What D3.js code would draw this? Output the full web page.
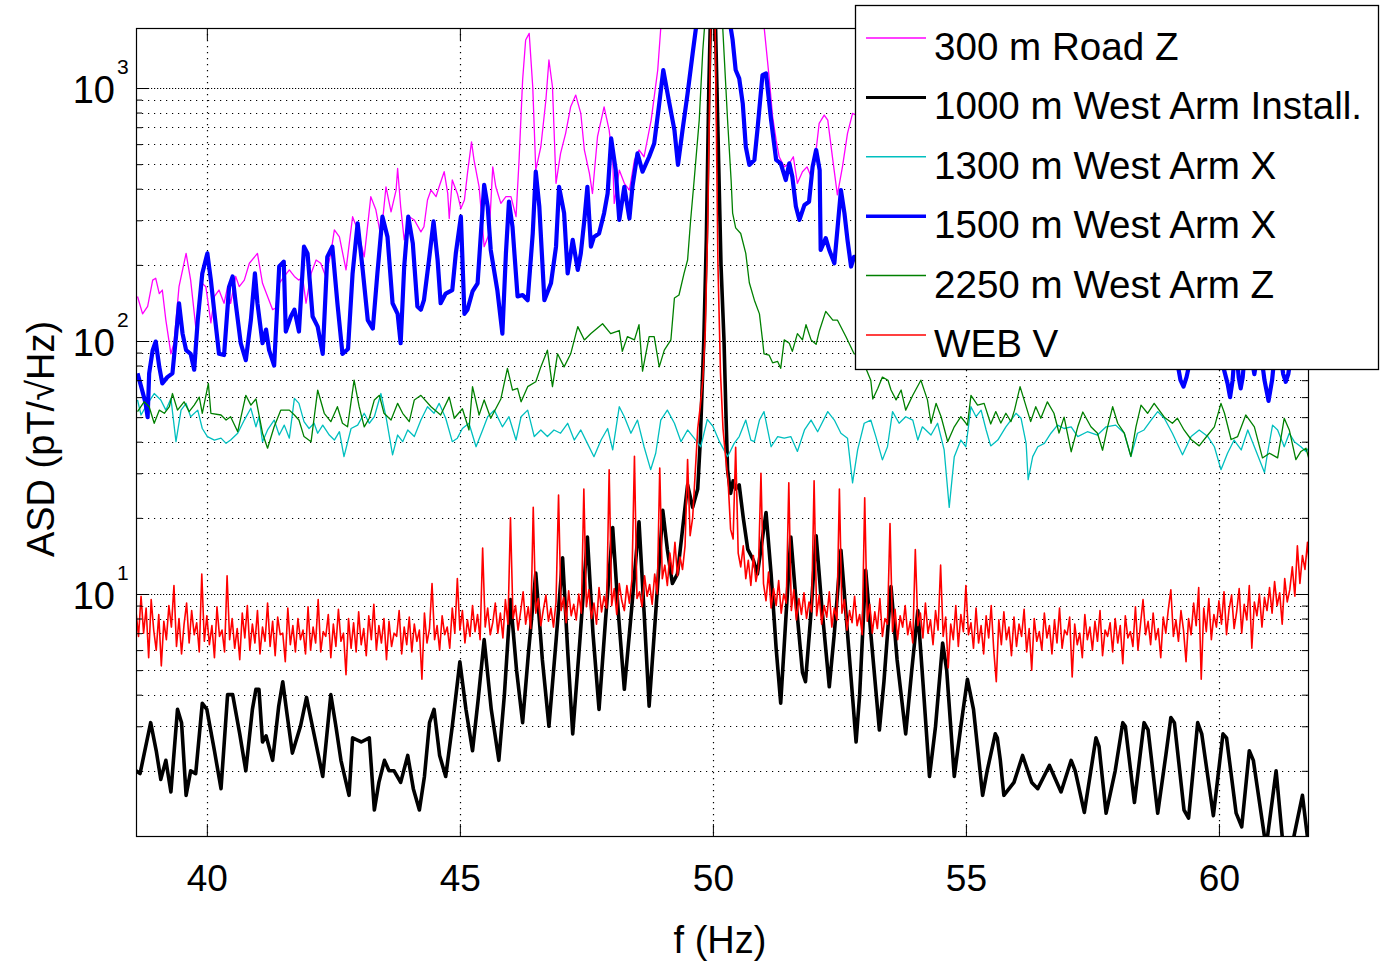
<!DOCTYPE html>
<html><head><meta charset="utf-8">
<script src="https://cdn.jsdelivr.net/npm/d3@7"></script>
<style>
body{margin:0;background:#fff}
svg{display:block}
text{font-family:"Liberation Sans",Arial,Helvetica,sans-serif;fill:#000}
</style>
</head><body>
<svg id="chart" width="1380" height="963"></svg>
<script>
// ---------------- DATA ----------------
const xTicks = [40, 45, 50, 55, 60];
const yMajorTicks = [10, 100, 1000];
const yMinorMultipliers = [2, 3, 4, 5, 6, 7, 8, 9];
const xDomain = [38.6, 61.76];
const yDomain = [1.105, 1727];
const xLabel = "f (Hz)";
const yLabel = "ASD (pT/\u221AHz)";
const legendLabels = ["300 m Road Z", "1000 m West Arm Install.", "1300 m West Arm X",
  "1500 m West Arm X", "2250 m West Arm Z", "WEB V"];

// [frequency Hz, ASD pT/sqrt(Hz)]
const road300Z = [[38.63,150],[38.73,128],[38.83,137],[38.93,174],[38.99,177],[39.06,154],[39.12,159],[39.19,121],[39.29,89],[39.35,98],[39.45,164],[39.59,222],[39.68,174],[39.78,114],[39.85,137],[39.91,169],[39.98,164],[40.08,118],[40.15,150],[40.24,159],[40.34,141],[40.41,164],[40.47,141],[40.57,180],[40.64,164],[40.74,174],[40.84,203],[41.00,222],[41.10,169],[41.20,150],[41.30,133],[41.36,135],[41.43,169],[41.53,180],[41.63,191],[41.73,180],[41.82,174],[41.89,180],[41.96,141],[42.06,185],[42.16,209],[42.25,203],[42.35,180],[42.45,222],[42.52,275],[42.62,258],[42.75,191],[42.88,310],[42.98,275],[43.11,215],[43.24,372],[43.34,330],[43.44,258],[43.54,407],[43.64,324],[43.74,395],[43.77,481],[43.83,340],[43.90,251],[44.00,310],[44.10,301],[44.23,270],[44.29,283],[44.36,361],[44.43,395],[44.53,372],[44.59,407],[44.69,467],[44.76,383],[44.79,305],[44.85,433],[44.95,383],[45.02,334],[45.09,361],[45.15,460],[45.23,613],[45.28,519],[45.38,407],[45.48,236],[45.58,266],[45.65,488],[45.71,407],[45.81,350],[45.91,372],[46.01,372],[46.11,310],[46.17,519],[46.24,1076],[46.30,1549],[46.37,1644],[46.44,1012],[46.50,474],[46.60,586],[46.70,897],[46.76,1291],[46.83,1012],[46.90,420],[46.99,552],[47.09,662],[47.19,844],[47.29,938],[47.39,794],[47.46,569],[47.56,460],[47.62,383],[47.72,642],[47.85,843],[47.95,682],[48.02,519],[48.05,350],[48.15,474],[48.25,420],[48.35,395],[48.45,519],[48.54,569],[48.64,535],[48.78,747],[48.91,1178],[48.97,1726],[49.20,2400],[49.60,3500],[50.00,6000],[50.50,3500],[50.90,2200],[51.01,1760],[51.11,1109],[51.18,771],[51.25,622],[51.31,535],[51.41,488],[51.51,504],[51.59,535],[51.67,420],[51.77,467],[51.86,488],[51.94,446],[52.04,569],[52.10,725],[52.20,782],[52.27,747],[52.37,519],[52.46,378],[52.56,488],[52.66,662],[52.76,794],[52.83,782],[53.10,400],[53.30,700],[53.60,350],[53.80,600],[54.10,300],[54.30,500],[54.60,280],[54.80,450],[55.10,250],[55.30,400],[55.60,230],[55.80,350],[56.10,220],[56.30,320],[56.60,200],[56.80,300],[57.10,190],[57.30,280],[57.60,180],[57.80,260],[58.10,170],[58.30,250],[58.60,165],[58.80,240],[59.10,160],[59.30,230],[59.60,155],[59.80,220],[60.10,150],[60.30,210],[60.60,145],[60.80,200],[61.10,140],[61.30,200],[61.60,135],[61.76,190]];

const install1000 = [[38.60,2.0],[38.68,1.95],[38.89,3.1],[39.00,2.4],[39.09,1.85],[39.19,2.2],[39.29,1.65],[39.42,3.5],[39.50,3.1],[39.59,1.6],[39.68,2.0],[39.78,1.95],[39.91,3.7],[40.00,3.5],[40.15,2.4],[40.28,1.7],[40.41,4.0],[40.51,4.0],[40.65,2.8],[40.77,2.0],[40.90,3.5],[40.97,4.2],[41.03,4.2],[41.10,2.6],[41.17,2.75],[41.30,2.2],[41.42,3.6],[41.50,4.5],[41.58,3.4],[41.69,2.35],[41.85,3.0],[41.97,3.9],[42.03,3.4],[42.15,2.6],[42.29,1.9],[42.45,4.0],[42.55,3.0],[42.65,2.2],[42.81,1.6],[42.88,2.7],[43.05,2.6],[43.21,2.7],[43.31,1.4],[43.40,1.8],[43.51,2.2],[43.60,2.0],[43.70,2.0],[43.83,1.8],[43.97,2.3],[44.08,1.7],[44.20,1.4],[44.30,1.9],[44.40,3.1],[44.49,3.5],[44.60,2.3],[44.72,1.9],[44.85,3.0],[45.00,5.4],[45.12,3.5],[45.25,2.4],[45.36,3.8],[45.48,6.6],[45.62,3.5],[45.77,2.2],[45.88,4.0],[46.00,9.5],[46.12,5.0],[46.24,3.1],[46.36,6.0],[46.50,12.1],[46.63,5.5],[46.76,3.0],[46.90,6.5],[47.03,13.9],[47.13,6.0],[47.23,2.8],[47.37,6.5],[47.52,16.8],[47.63,7.0],[47.75,3.5],[47.88,8.0],[48.02,18.3],[48.13,8.5],[48.25,4.2],[48.40,9.0],[48.54,19.3],[48.64,8.5],[48.74,3.6],[48.88,9.0],[49.01,21.4],[49.10,15],[49.20,11],[49.30,12],[49.40,18],[49.50,27],[49.60,22],[49.70,26],[49.75,40],[49.82,100],[49.87,250],[49.92,1000],[50.00,5000],[50.08,1000],[50.16,200],[50.22,100],[50.26,50],[50.29,31],[50.35,25],[50.40,28],[50.45,26],[50.52,27],[50.60,20],[50.69,15],[50.80,13.6],[50.88,12],[51.05,21],[51.15,12],[51.25,6.1],[51.34,3.7],[51.44,7.9],[51.54,16.8],[51.65,9],[51.77,4.9],[51.83,4.5],[51.93,8],[52.04,17],[52.15,9],[52.30,4.3],[52.40,7],[52.53,14.9],[52.66,7],[52.83,2.6],[52.90,4],[53.02,12.4],[53.12,7],[53.29,2.9],[53.38,4.5],[53.52,10.7],[53.64,5.5],[53.81,2.8],[53.93,5],[54.05,8.6],[54.15,4.5],[54.28,1.9],[54.40,3],[54.54,6.4],[54.62,5],[54.77,1.9],[54.90,3],[55.03,4.6],[55.15,3.5],[55.33,1.6],[55.42,2.0],[55.58,2.8],[55.62,2.7],[55.68,2.2],[55.75,1.6],[55.95,1.8],[56.12,2.3],[56.30,1.8],[56.42,1.7],[56.65,2.1],[56.88,1.65],[57.08,2.2],[57.16,2.0],[57.34,1.37],[57.57,2.7],[57.63,2.5],[57.77,1.36],[57.95,2.0],[58.10,3.1],[58.15,3.0],[58.33,1.5],[58.52,3.1],[58.60,2.9],[58.79,1.36],[58.95,2.3],[59.05,3.25],[59.12,3.1],[59.31,1.4],[59.40,1.3],[59.58,3.1],[59.66,2.8],[59.89,1.33],[60.08,2.8],[60.15,2.7],[60.34,1.36],[60.45,1.2],[60.60,2.4],[60.68,2.2],[60.90,1.1],[60.96,1.1],[61.13,2.0],[61.26,1.05],[61.46,1.05],[61.65,1.6],[61.76,1.05]];

const arm1300X = [[38.63,58.5],[38.70,51],[38.79,55],[38.96,62],[39.09,58.5],[39.19,53.3],[39.29,59.3],[39.39,40],[39.49,53.3],[39.59,56.7],[39.68,50.2],[39.82,53.3],[39.91,45.1],[40.01,41.9],[40.15,40.6],[40.28,41.3],[40.38,39.4],[40.47,40.6],[40.61,43.2],[40.74,48.7],[40.87,54.2],[40.97,45.8],[41.03,50.2],[41.10,40],[41.20,44.5],[41.33,48.7],[41.43,42.5],[41.53,46.5],[41.63,41.3],[41.73,59.3],[41.82,56.7],[41.92,48],[42.02,45.1],[42.12,47.3],[42.19,43.2],[42.29,46.5],[42.42,42.5],[42.52,40.6],[42.62,43.8],[42.71,34.9],[42.85,45.1],[42.98,46.5],[43.11,51.8],[43.21,47.3],[43.31,50.2],[43.44,62],[43.54,50.2],[43.67,35.5],[43.77,42.5],[43.87,40],[43.97,44.5],[44.10,41.9],[44.23,48.7],[44.36,55],[44.49,51.8],[44.59,56.7],[44.72,49.5],[44.85,40],[44.95,41.3],[45.05,45.1],[45.18,47.3],[45.32,38.2],[45.45,44.5],[45.55,50.2],[45.68,53.3],[45.84,45.8],[45.97,50.2],[46.11,40.6],[46.21,50.2],[46.34,53.3],[46.47,41.9],[46.60,44.5],[46.73,41.9],[46.86,44.5],[46.99,43.2],[47.13,47.3],[47.26,40.6],[47.39,44.5],[47.52,39.4],[47.65,34.9],[47.79,40.6],[47.92,45.1],[48.02,37.1],[48.15,55],[48.25,50.2],[48.38,43.2],[48.51,48.7],[48.64,38.2],[48.77,31],[48.87,36],[48.97,48.7],[49.10,53.3],[49.24,47.3],[49.37,40],[49.50,44.5],[49.63,41.3],[49.76,38.2],[49.89,49],[50.00,46],[50.13,40],[50.29,34.9],[50.42,39.4],[50.52,41.9],[50.65,48.7],[50.75,40.6],[50.82,40],[50.92,48.7],[51.01,52.6],[51.15,38.2],[51.28,41.9],[51.41,41.3],[51.54,41.9],[51.67,36.6],[51.81,44.5],[51.94,48.7],[52.07,43.8],[52.27,52.6],[52.40,48.7],[52.53,43.2],[52.66,41.3],[52.76,27.5],[52.86,37.1],[52.99,47.3],[53.12,48.7],[53.22,41.9],[53.35,33.9],[53.45,38.2],[53.55,52.6],[53.68,47.3],[53.81,50.2],[53.95,48.7],[54.05,40.6],[54.14,45.8],[54.31,42.5],[54.44,47.3],[54.57,37.1],[54.67,22],[54.77,34.9],[54.90,40.6],[55.00,38.2],[55.10,55],[55.20,50.2],[55.30,53.3],[55.40,44.5],[55.49,38.5],[55.63,40.6],[55.79,45.8],[55.89,48.7],[55.99,51.8],[56.09,49.5],[56.19,39.4],[56.23,28.3],[56.32,34.9],[56.42,38.2],[56.55,39.4],[56.68,43.2],[56.81,46.5],[56.94,45.1],[57.08,45.8],[57.21,41.9],[57.40,43.8],[57.60,42.5],[57.77,45.8],[57.96,46.5],[58.13,43.2],[58.26,34.9],[58.39,43.2],[58.52,44.5],[58.66,48.7],[58.79,52.6],[58.92,49.5],[59.08,43.2],[59.28,35.5],[59.45,41.9],[59.61,44.5],[59.78,41.9],[59.91,38.2],[60.04,31],[60.17,36],[60.30,40.6],[60.44,37.1],[60.57,44.5],[60.70,38.2],[60.90,30.2],[60.96,36],[61.06,46.5],[61.16,44.5],[61.29,38.2],[61.39,43.2],[61.49,40],[61.62,38.2],[61.72,36.6],[61.80,38.2]];

const arm1500X = [[38.63,74.5],[38.72,64],[38.79,56.7],[38.83,50],[38.86,74.5],[38.93,92],[38.99,99.5],[39.06,79],[39.12,68],[39.22,72],[39.32,74.5],[39.39,104],[39.45,141],[39.52,107],[39.59,92],[39.68,89],[39.75,77],[39.82,121],[39.91,185],[40.01,222],[40.08,174],[40.15,129],[40.24,89],[40.34,88],[40.44,164],[40.51,180],[40.57,141],[40.67,98],[40.77,84],[40.87,121],[40.95,185],[41.00,141],[41.10,98],[41.17,111],[41.23,92],[41.33,80],[41.43,197],[41.52,206],[41.56,109],[41.66,125],[41.73,133],[41.82,109],[41.92,236],[41.99,222],[42.09,125],[42.19,114],[42.29,89],[42.38,215],[42.48,236],[42.58,141],[42.68,89],[42.79,93],[42.88,185],[42.98,292],[43.08,191],[43.18,121],[43.28,112],[43.37,185],[43.47,310],[43.57,258],[43.67,141],[43.77,128],[43.83,98],[43.90,197],[43.98,310],[44.07,243],[44.16,137],[44.23,133],[44.29,145],[44.39,209],[44.48,297],[44.56,209],[44.62,141],[44.72,154],[44.85,159],[44.92,222],[45.02,310],[45.09,128],[45.15,133],[45.25,157],[45.35,169],[45.48,414],[45.55,340],[45.61,229],[45.74,159],[45.84,107],[45.91,222],[45.97,356],[46.04,283],[46.14,150],[46.24,152],[46.34,145],[46.44,266],[46.50,467],[46.57,340],[46.67,145],[46.80,169],[46.90,236],[46.96,407],[47.06,320],[47.13,185],[47.23,251],[47.33,191],[47.39,222],[47.46,301],[47.52,407],[47.59,236],[47.65,258],[47.75,266],[47.85,320],[47.92,383],[47.99,632],[48.08,474],[48.15,301],[48.25,407],[48.35,305],[48.41,407],[48.51,552],[48.61,467],[48.74,535],[48.84,604],[48.94,869],[49.02,1178],[49.14,869],[49.24,682],[49.31,497],[49.40,682],[49.50,952],[49.60,1371],[49.66,1694],[49.70,1900],[50.00,5000],[50.32,1900],[50.39,1549],[50.45,1178],[50.52,1092],[50.59,869],[50.65,586],[50.72,497],[50.82,519],[50.88,682],[50.98,1125],[51.05,1143],[51.15,748],[51.25,520],[51.34,504],[51.44,433],[51.51,504],[51.57,446],[51.64,340],[51.71,301],[51.81,345],[51.90,355],[51.97,488],[52.04,569],[52.11,474],[52.13,229],[52.23,255],[52.30,229],[52.40,203],[52.46,275],[52.53,395],[52.60,320],[52.66,251],[52.73,197],[52.79,215],[52.86,215],[53.00,350],[53.25,160],[53.50,300],[53.75,140],[54.00,260],[54.25,120],[54.50,230],[54.75,110],[55.00,200],[55.25,100],[55.50,180],[55.75,95],[56.00,170],[56.25,92],[56.50,160],[56.75,90],[57.00,150],[57.25,85],[57.50,150],[57.75,85],[58.00,140],[58.25,82],[58.50,140],[58.75,80],[59.00,130],[59.24,70],[59.30,66],[59.36,72],[59.60,120],[59.90,110],[60.17,68],[60.22,60],[60.27,70],[60.33,100],[60.39,72],[60.43,65],[60.47,72],[60.55,110],[60.70,74],[60.80,100],[60.90,70],[60.98,58],[61.05,70],[61.15,110],[61.27,74],[61.32,69],[61.37,74],[61.50,110],[61.76,100]];

const arm2250Z = [[38.63,52.6],[38.76,57.5],[38.86,55],[38.96,47.3],[39.06,53.3],[39.16,51.8],[39.26,55],[39.32,62],[39.42,53.3],[39.55,57.5],[39.65,52.6],[39.75,55.8],[39.85,60],[39.91,51.8],[40.03,68],[40.08,51.8],[40.28,51],[40.38,48.7],[40.47,50.2],[40.61,43.8],[40.77,61],[40.87,55.8],[40.97,59],[41.10,43.2],[41.20,37.7],[41.33,45.8],[41.46,53.3],[41.63,53.3],[41.73,51],[41.82,48.7],[41.92,41.9],[42.06,40],[42.19,64],[42.32,51.8],[42.45,48],[42.58,55],[42.68,47.3],[42.78,45.8],[42.91,70],[43.01,55],[43.11,45.8],[43.21,49.5],[43.31,58.5],[43.41,61],[43.50,51.8],[43.64,48.7],[43.77,56.7],[43.87,51.8],[44.00,48],[44.10,58.5],[44.23,61],[44.43,55],[44.62,51],[44.79,60],[44.89,49.5],[45.05,54],[45.18,44.5],[45.25,66],[45.38,51],[45.48,58.5],[45.61,49.5],[45.81,59],[45.94,78],[46.04,64],[46.14,65],[46.21,57.5],[46.34,66],[46.50,69],[46.60,79],[46.73,92],[46.83,66],[46.93,89],[47.06,79],[47.19,89],[47.33,114],[47.46,101],[47.59,107],[47.82,117],[47.98,107],[48.15,110],[48.21,91],[48.31,104],[48.45,101],[48.54,116],[48.61,76],[48.74,104],[48.84,104],[48.94,79],[49.04,92],[49.17,101],[49.24,148],[49.33,152],[49.43,185],[49.50,209],[49.56,300],[49.63,433],[49.73,747],[49.80,1400],[49.84,1800],[50.00,4000],[50.19,1800],[50.29,747],[50.36,433],[50.39,320],[50.45,280],[50.55,266],[50.65,222],[50.72,170],[50.82,145],[50.92,128],[50.98,101],[51.01,89],[51.11,88],[51.18,82],[51.28,83],[51.34,78],[51.41,101],[51.51,98],[51.57,91],[51.67,107],[51.77,101],[51.84,116],[51.94,101],[52.04,97],[52.10,109],[52.23,131],[52.37,121],[52.46,121],[52.63,104],[52.79,89],[52.86,89],[53.00,80],[53.12,70],[53.16,59],[53.26,65],[53.35,72],[53.46,70],[53.52,64],[53.62,58.5],[53.72,64],[53.81,53.3],[53.95,61],[54.11,70],[54.24,58.5],[54.31,47.3],[54.41,56.7],[54.51,50.2],[54.64,40],[54.77,45.8],[54.90,50.2],[55.03,46.5],[55.10,61],[55.23,55.8],[55.36,56.7],[55.49,47],[55.59,52.6],[55.69,47.4],[55.79,51.8],[55.89,48],[55.96,53.3],[56.07,66],[56.15,58.5],[56.28,48],[56.38,55],[56.48,49.5],[56.61,57.5],[56.74,51.8],[56.84,43.3],[56.94,50],[57.08,36.5],[57.21,45.8],[57.31,52.4],[57.47,45.8],[57.60,43.2],[57.70,37],[57.80,45.8],[57.90,55],[58.00,47.3],[58.13,43.2],[58.26,35],[58.36,45.8],[58.46,55.8],[58.59,51.8],[58.72,56.7],[58.92,50],[59.08,47.3],[59.18,49.5],[59.31,44.5],[59.45,40.8],[59.61,38.5],[59.78,42.5],[59.91,45.8],[60.04,56.7],[60.11,51.8],[60.24,40.8],[60.37,41.9],[60.53,51],[60.70,45.8],[60.86,34.5],[61.00,36],[61.16,34.5],[61.29,49.5],[61.39,44.5],[61.52,34],[61.62,36.6],[61.72,37.7],[61.80,33]];

// WEB V: sampled every 0.05 Hz from 38.60 Hz
const webStartHz = 38.60;
const webStepHz = 0.05;
const webV = [
8.5,6.8,9.8,7.0,8.8,5.6,9.5,7.2,
6.0,8.3,5.2,7.8,6.6,9.0,7.4,10.8,6.2,8.0,5.8,7.6,9.2,6.4,8.6,6.9,7.7,5.9,12.0,6.5,
8.2,6.3,7.5,5.6,8.9,6.8,7.2,5.9,11.8,6.6,8.0,6.1,7.3,5.5,8.4,6.7,9.0,6.0,7.6,6.4,
8.6,5.8,7.4,6.5,9.2,6.2,7.8,5.7,8.1,6.9,7.0,5.4,8.8,6.3,7.5,5.9,8.0,6.6,7.2,5.8,
8.9,6.0,7.4,6.4,9.5,5.9,7.1,6.8,8.3,5.6,7.6,6.2,8.7,6.5,7.0,4.8,8.0,6.1,7.7,5.9,
8.5,6.3,7.3,5.7,8.2,6.6,9.1,6.0,7.5,6.4,8.0,5.5,7.8,6.2,7.0,6.8,8.6,5.8,7.4,6.3,
8.1,5.9,7.6,6.5,7.2,4.6,8.4,6.4,7.3,11.0,6.6,7.5,6.0,8.2,6.9,7.4,6.1,8.8,7.0,11.5,
7.2,8.6,6.4,7.9,6.8,9.0,7.1,8.3,6.6,15.2,7.4,8.8,6.9,7.7,9.2,7.0,8.4,6.7,9.5,7.6,
20.0,8.0,9.0,7.2,8.5,10.2,7.6,8.9,7.3,22.0,8.4,9.6,7.5,8.7,9.9,7.8,8.8,7.4,9.3,24.6,
8.6,9.7,7.7,10.3,8.2,9.1,7.9,10.0,8.4,26.0,8.9,10.4,8.0,9.2,7.6,10.6,8.5,9.8,8.8,31.0,
9.0,10.5,8.3,11.0,9.4,8.6,10.8,9.2,11.4,35.0,9.6,10.2,8.9,11.8,9.8,10.9,9.1,12.0,10.0,31.5,
11.5,13.0,10.8,14.5,12.0,16.0,11.8,14.0,12.5,15.5,34.0,17.0,20.0,30.0,45.0,55.0,70.0,110,300,1500,
5000,1500,200,75,45,35,28,18,16.5,38,14.5,12.8,15.5,11.5,13.6,10.8,14.2,11.2,12.6,30,
11.0,9.4,12.2,8.8,10.5,9.0,11.3,8.4,10.0,9.2,27.5,8.6,10.4,7.9,9.6,8.3,10.1,8.0,9.3,8.5,
28,8.2,9.9,7.6,9.0,8.1,10.2,7.4,8.8,7.9,26,8.4,9.5,7.2,8.6,7.7,9.8,7.5,8.3,6.9,
24,7.8,9.1,7.0,8.5,7.3,9.6,6.8,8.0,7.6,19,7.1,8.7,6.6,8.2,7.4,9.0,6.9,7.8,6.4,
15,7.5,8.4,6.7,9.2,7.0,7.9,6.3,8.6,7.2,13,6.8,8.1,5.1,7.6,6.6,9.0,6.2,8.3,7.1,
10.8,6.9,7.7,6.1,8.8,6.4,7.5,5.8,8.2,6.7,9.0,6.0,4.5,7.9,6.3,8.5,6.6,7.4,5.7,8.1,
6.2,7.6,6.8,8.7,5.9,7.3,5.0,8.0,6.5,7.1,6.0,8.4,6.7,7.5,5.8,7.9,6.4,8.8,6.1,7.2,
6.9,8.1,4.7,7.6,6.3,7.0,5.6,8.3,6.6,7.4,6.0,7.8,6.5,8.6,5.7,7.2,6.8,7.7,5.9,8.0,
6.4,7.5,5.3,8.2,6.7,7.1,6.2,8.9,6.0,7.6,9.5,6.9,7.8,6.3,8.4,6.6,7.3,5.6,8.1,7.0,
8.7,10.4,6.8,7.9,6.5,8.6,7.2,5.4,8.0,6.9,9.2,7.5,10.6,4.6,8.8,7.1,9.6,6.6,8.3,7.4,
9.4,7.6,10.2,6.9,8.7,9.9,7.3,8.5,10.5,7.0,9.1,7.9,10.8,6.1,9.3,8.2,10.0,7.4,9.7,8.6,
10.6,8.4,11.2,9.0,10.1,7.6,11.5,9.3,10.4,12.8,9.8,15.5,11.0,14.2,12.5,16.0,11.8];

// ---------------- CHART ----------------
const svg = d3.select("#chart");
const plot = {l: 136, t: 28, r: 1308, b: 836};
const x = d3.scaleLinear().domain(xDomain).range([plot.l, plot.r]);
const y = d3.scaleLog().domain(yDomain).range([plot.b, plot.t]);

svg.append("rect").attr("width", 1380).attr("height", 963).attr("fill", "#fff");

const webPairs = webV.map((v, i) => [webStartHz + i * webStepHz, v]);

const series = [
  {name: legendLabels[0], data: road300Z,   color: "#ff00ff", width: 1.3, lw: 1.5},
  {name: legendLabels[1], data: install1000, color: "#000000", width: 3.6, lw: 3},
  {name: legendLabels[2], data: arm1300X,   color: "#00bfbf", width: 1.3, lw: 1.5},
  {name: legendLabels[3], data: arm1500X,   color: "#0000ff", width: 4.2, lw: 3.5},
  {name: legendLabels[4], data: arm2250Z,   color: "#008000", width: 1.3, lw: 1.5},
  {name: legendLabels[5], data: webPairs,   color: "#ff0000", width: 1.6, lw: 1.5}
];

// grid values
const yMinor = [];
[1, 10, 100, 1000].forEach(d => yMinorMultipliers.forEach(m => {
  const v = m * d; if (v > yDomain[0] && v < yDomain[1]) yMinor.push(v);
}));
const yMajor = yMajorTicks.filter(v => v > yDomain[0] && v < yDomain[1]);

const grid = svg.append("g").attr("stroke", "#000").attr("stroke-width", 1.2);
grid.selectAll("line.gx").data(xTicks).join("line")
  .attr("x1", d => Math.round(x(d)) + 0.5).attr("x2", d => Math.round(x(d)) + 0.5)
  .attr("y1", plot.t).attr("y2", plot.b).attr("stroke-dasharray", "1.2,4.8");
grid.selectAll("line.gy").data(yMinor).join("line")
  .attr("x1", plot.l).attr("x2", plot.r)
  .attr("y1", d => Math.round(y(d)) + 0.5).attr("y2", d => Math.round(y(d)) + 0.5)
  .attr("stroke-dasharray", "1.2,4.8");
grid.selectAll("line.gM").data(yMajor).join("line")
  .attr("x1", plot.l).attr("x2", plot.r)
  .attr("y1", d => Math.round(y(d)) + 0.5).attr("y2", d => Math.round(y(d)) + 0.5)
  .attr("stroke-dasharray", "1.2,1.8");

// clip
svg.append("defs").append("clipPath").attr("id", "clip")
  .append("rect").attr("x", plot.l).attr("y", plot.t)
  .attr("width", plot.r - plot.l).attr("height", plot.b - plot.t);

const line = d3.line().x(d => x(d[0])).y(d => y(d[1]));
const lines = svg.append("g").attr("clip-path", "url(#clip)");
series.forEach(s => {
  lines.append("path").datum(s.data).attr("d", line)
    .attr("fill", "none").attr("stroke", s.color).attr("stroke-width", s.width)
    .attr("stroke-linejoin", "round").attr("stroke-linecap", "butt");
});

// axes (ticks inside)
function styleAxis(g) { g.select(".domain").remove(); g.selectAll("line").attr("stroke", "#000"); }
const fs = "37px";
svg.append("g").attr("transform", `translate(0,${plot.b})`)
  .call(d3.axisBottom(x).tickValues(xTicks).tickSize(-12).tickSizeOuter(0).tickPadding(29))
  .call(styleAxis)
  .call(g => g.selectAll("text").attr("font-size", fs)
    .attr("font-family", '"Liberation Sans",Arial,sans-serif').attr("fill", "#000"));
svg.append("g").attr("transform", `translate(0,${plot.t})`)
  .call(d3.axisTop(x).tickValues(xTicks).tickSize(-12).tickSizeOuter(0).tickFormat(""))
  .call(styleAxis);
svg.append("g").attr("transform", `translate(${plot.l},0)`)
  .call(d3.axisLeft(y).tickValues(yMajor).tickSize(-12).tickSizeOuter(0).tickFormat(""))
  .call(styleAxis);
svg.append("g").attr("transform", `translate(${plot.l},0)`)
  .call(d3.axisLeft(y).tickValues(yMinor).tickSize(-6).tickSizeOuter(0).tickFormat(""))
  .call(styleAxis);
svg.append("g").attr("transform", `translate(${plot.r},0)`)
  .call(d3.axisRight(y).tickValues(yMajor).tickSize(-12).tickSizeOuter(0).tickFormat(""))
  .call(styleAxis);
svg.append("g").attr("transform", `translate(${plot.r},0)`)
  .call(d3.axisRight(y).tickValues(yMinor).tickSize(-6).tickSizeOuter(0).tickFormat(""))
  .call(styleAxis);

// y tick labels 10^n
const ylab = svg.append("g");
yMajor.forEach(v => {
  const yy = y(v);
  ylab.append("text").attr("x", plot.l - 21).attr("y", yy + 15)
    .attr("text-anchor", "end").attr("font-size", "38px").text("10");
  ylab.append("text").attr("x", plot.l - 19).attr("y", yy - 14)
    .attr("text-anchor", "start").attr("font-size", "21px").text(String(Math.round(Math.log10(v))));
});

// frame
svg.append("rect").attr("x", plot.l + 0.5).attr("y", plot.t + 0.5)
  .attr("width", plot.r - plot.l).attr("height", plot.b - plot.t)
  .attr("fill", "none").attr("stroke", "#000").attr("stroke-width", 1.2);

// axis labels
svg.append("text").attr("x", 720).attr("y", 953).attr("text-anchor", "middle")
  .attr("font-size", "38px").text(xLabel);
svg.append("text").attr("transform", "translate(54,439) rotate(-90)")
  .attr("text-anchor", "middle").attr("font-size", "38px").text(yLabel);

// legend
const lg = svg.append("g");
lg.append("rect").attr("x", 855.5).attr("y", 5.5).attr("width", 523).attr("height", 364)
  .attr("fill", "#fff").attr("stroke", "#000").attr("stroke-width", 1.3);
series.forEach((s, i) => {
  const by = 60 + i * 59.4;
  lg.append("line").attr("x1", 866).attr("x2", 926).attr("y1", by - 22).attr("y2", by - 22)
    .attr("stroke", s.color).attr("stroke-width", s.lw);
  lg.append("text").attr("x", 934).attr("y", by).attr("font-size", "38.6px").text(s.name);
});
</script>
</body></html>
